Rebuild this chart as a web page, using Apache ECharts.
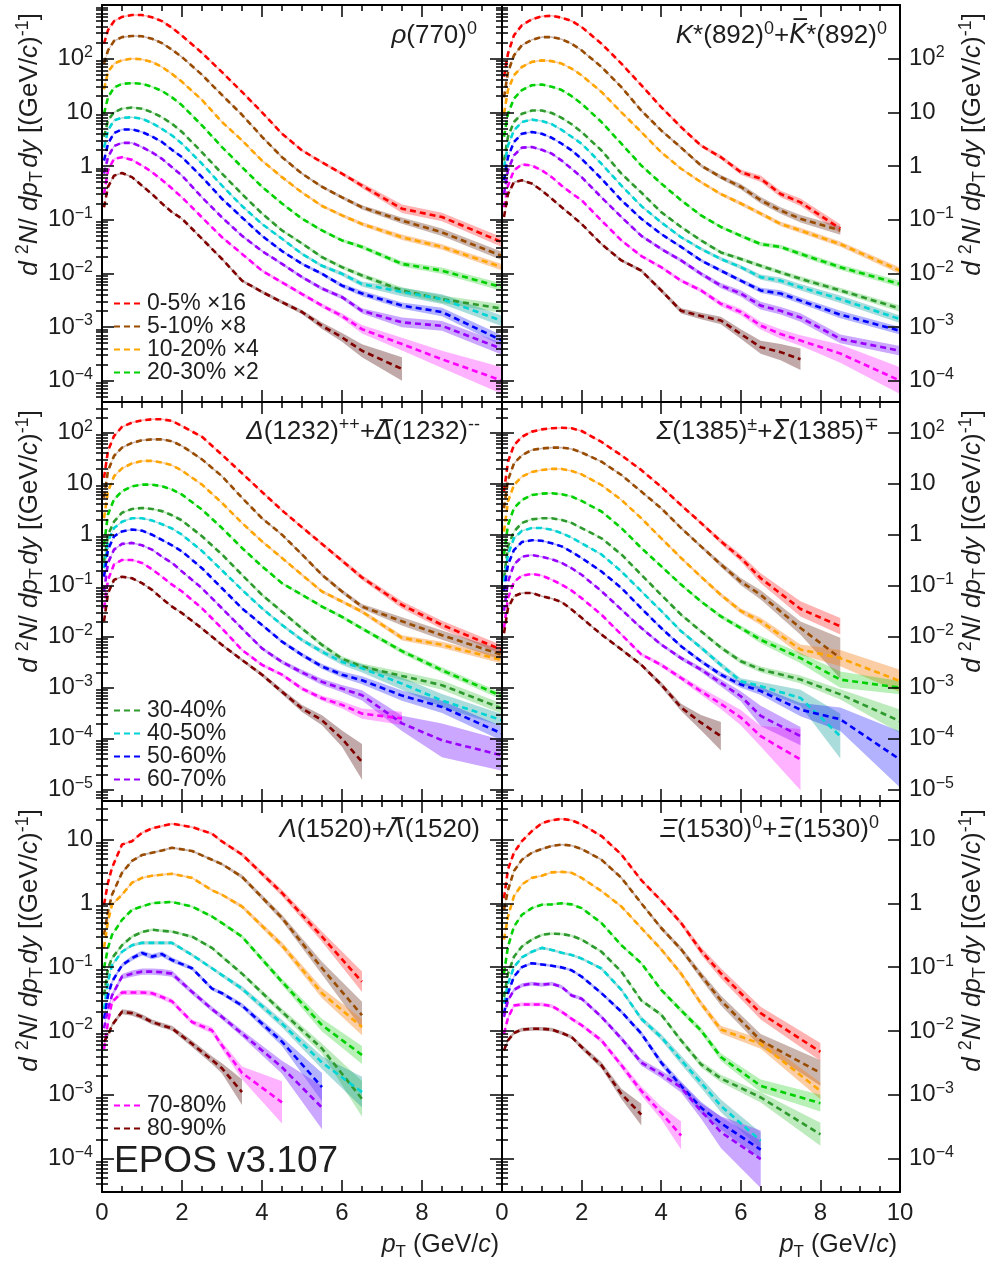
<!DOCTYPE html>
<html><head><meta charset="utf-8">
<script src="https://cdn.jsdelivr.net/npm/echarts@6/dist/echarts.min.js"></script>
<style>html,body{margin:0;padding:0;background:#fff}#c{width:991px;height:1262px}</style>
</head><body><div id="c"></div><script>
// ---------------- data ----------------
const centralities = ['0-5%','5-10%','10-20%','20-30%','30-40%','40-50%','50-60%','60-70%','70-80%','80-90%'];
const scaleFactors = ['\u00d716','\u00d78','\u00d74','\u00d72','','','','','',''];
const lineColors = ['#ff0000','#994c00','#ffa500','#00d000','#2e9a2e','#00d4d4','#0000ff','#9900ff','#ff00ff','#800000'];
const bandColors = ['rgba(255,0,0,0.3)','rgba(120,70,50,0.4)','rgba(245,130,30,0.4)','rgba(0,200,0,0.28)','rgba(40,190,40,0.3)','rgba(0,150,150,0.33)','rgba(0,0,255,0.3)','rgba(140,60,255,0.45)','rgba(255,0,255,0.3)','rgba(100,40,40,0.4)'];

// rho(770)0
const ptRho = [0.05,0.15,0.3,0.5,0.75,1.0,1.25,1.5,1.75,2.0,2.5,3.0,3.5,4.0,4.5,5.0,5.5,6.0,6.5,7.5,8.5,10];
const yieldRho = [
 [190,340,500,600,650,650,590,500,375,268,128,56,24,10,4.0,1.95,1.17,0.72,0.43,0.16,0.112,0.038],
 [81,143,214,252,265,262,235,195,147,107,50,21,9,3.5,1.46,0.72,0.41,0.26,0.17,0.096,0.058,0.021],
 [27,56,81,93,100,97,87,70,52,37,17,6.6,3.0,1.26,0.62,0.32,0.18,0.12,0.083,0.047,0.031,0.013],
 [9.4,19,29,34,35,34,30,25,19,13.5,5.7,2.25,0.95,0.41,0.20,0.104,0.063,0.041,0.031,0.015,0.0112,0.0055],
 [3.5,7.1,10,11.7,12.3,11.7,10,8.1,6.1,4.3,1.8,0.72,0.30,0.13,0.063,0.036,0.020,0.013,0.0091,0.0048,0.0033,0.0022],
 [2.2,4.6,7.1,7.9,8.1,7.6,6.3,4.9,3.7,2.6,1.1,0.43,0.18,0.083,0.044,0.023,0.0138,0.0098,0.0063,0.0045,0.0033,0.0013],
 [1.26,2.6,4.1,4.8,4.8,4.3,3.55,2.8,2.0,1.46,0.62,0.245,0.11,0.05,0.026,0.015,0.0098,0.0059,0.0042,0.0025,0.0019,0.00056],
 [0.72,1.46,2.35,2.7,2.7,2.25,1.8,1.36,0.95,0.66,0.26,0.11,0.05,0.026,0.015,0.0085,0.0052,0.0036,0.002,0.00122,0.00105,0.00039],
 [0.30,0.83,1.36,1.46,1.3,1.02,0.77,0.55,0.38,0.26,0.11,0.047,0.023,0.0112,0.0068,0.0041,0.0025,0.0016,0.00091,0.00048,0.00025,0.0001],
 [0.17,0.41,0.66,0.74,0.62,0.43,0.30,0.20,0.138,0.104,0.044,0.0185,0.0073,0.0045,0.0029,0.0019,0.00105,0.00064,0.00036,0.000165,null,null]
];
const errRho = [
 [.02,.015,.015,.015,.015,.015,.015,.015,.015,.015,.015,.015,.015,.02,.02,.02,.025,.03,.05,.08,.08,.09],
 [.02,.015,.015,.015,.015,.015,.015,.015,.015,.015,.015,.015,.015,.02,.02,.02,.025,.03,.04,.06,.07,.08],
 [.02,.015,.015,.015,.015,.015,.015,.015,.015,.015,.015,.015,.015,.02,.02,.02,.025,.03,.035,.05,.05,.06],
 [.02,.015,.015,.015,.015,.015,.015,.015,.015,.015,.015,.015,.015,.02,.02,.02,.025,.03,.04,.05,.06,.07],
 [.02,.015,.015,.015,.015,.015,.015,.015,.015,.015,.015,.015,.02,.02,.02,.025,.03,.035,.04,.06,.07,.08],
 [.02,.015,.015,.015,.015,.015,.015,.015,.015,.015,.015,.015,.02,.02,.02,.025,.03,.04,.05,.08,.09,.10],
 [.02,.015,.015,.015,.015,.015,.015,.015,.015,.015,.015,.015,.02,.02,.02,.025,.03,.04,.05,.06,.08,.10],
 [.02,.015,.015,.015,.015,.015,.015,.015,.015,.015,.015,.015,.02,.02,.025,.03,.035,.04,.05,.09,.09,.11],
 [.02,.015,.015,.015,.015,.015,.015,.015,.015,.015,.015,.02,.02,.025,.03,.035,.04,.05,.08,.12,.16,.25],
 [.02,.015,.015,.015,.015,.015,.015,.015,.015,.015,.02,.02,.025,.03,.035,.04,.06,.08,.12,.22,null,null]
];

// K*(892)0
const ptKst = [0.05,0.15,0.3,0.5,0.75,1.0,1.25,1.5,1.75,2.0,2.5,3.0,3.5,4.0,4.5,5.0,5.5,6.0,6.5,7.0,7.5,8.5,10];
const yieldKst = [
 [46,124,272,420,540,615,630,580,505,390,190,81,32,12.5,5.3,2.4,1.46,0.77,0.58,0.30,0.21,0.068,null],
 [19,56,115,178,225,252,252,230,190,143,70,29.5,10.8,4.6,2.2,1.02,0.62,0.41,0.23,0.148,0.104,0.063,null],
 [9.4,26,49,70,87,93,90,81,65,49,24,10,4.3,1.8,0.89,0.50,0.30,0.20,0.13,0.083,0.063,0.035,0.0112],
 [3.5,9.4,18,26,32,33,30,26,20,14.5,6.6,2.6,1.02,0.47,0.23,0.12,0.073,0.050,0.035,0.031,0.023,0.013,0.0063],
 [1.26,3.5,6.6,9.4,10.8,10.8,9.7,7.9,6.0,4.3,1.95,0.72,0.32,0.138,0.073,0.041,0.0245,0.0185,0.0138,0.0104,0.0079,0.0048,0.0022],
 [0.95,2.4,4.6,6.6,7.3,6.9,6.0,4.7,3.5,2.6,1.1,0.43,0.18,0.089,0.047,0.0285,0.0185,0.013,0.0085,0.0073,0.0055,0.0033,0.0014],
 [0.54,1.46,2.8,4.0,4.3,4.0,3.35,2.6,1.95,1.36,0.58,0.23,0.104,0.054,0.031,0.0174,0.0112,0.0073,0.0048,0.0042,0.0031,0.0017,0.00085],
 [0.30,0.83,1.58,2.2,2.25,2.0,1.7,1.26,0.89,0.62,0.26,0.112,0.05,0.0285,0.0174,0.0098,0.0059,0.0042,0.0025,0.002,0.0015,0.0006,0.00036],
 [0.17,0.43,0.83,1.07,1.02,0.83,0.62,0.43,0.31,0.23,0.096,0.041,0.021,0.013,0.0073,0.0048,0.0027,0.0019,0.00106,0.00074,0.00056,0.00032,0.0001],
 [0.112,0.30,0.50,0.54,0.47,0.35,0.245,0.17,0.12,0.083,0.035,0.0174,0.0112,0.0048,0.002,0.0016,0.00132,0.00074,0.00042,0.00034,0.00025,null,null]
];
const errKst = [
 [.02,.015,.015,.015,.015,.015,.015,.015,.015,.015,.015,.015,.02,.02,.025,.03,.04,.05,.06,.06,.07,.08,null],
 [.02,.015,.015,.015,.015,.015,.015,.015,.015,.015,.015,.015,.02,.02,.025,.03,.04,.05,.06,.06,.07,.08,null],
 [.02,.015,.015,.015,.015,.015,.015,.015,.015,.015,.015,.015,.02,.02,.02,.025,.03,.035,.04,.04,.05,.05,.06],
 [.02,.015,.015,.015,.015,.015,.015,.015,.015,.015,.015,.015,.02,.02,.02,.025,.03,.035,.04,.04,.05,.05,.06],
 [.02,.015,.015,.015,.015,.015,.015,.015,.015,.015,.015,.015,.02,.02,.02,.025,.03,.035,.04,.04,.05,.05,.06],
 [.02,.015,.015,.015,.015,.015,.015,.015,.015,.015,.015,.015,.02,.02,.025,.03,.035,.04,.05,.06,.06,.07,.07],
 [.02,.015,.015,.015,.015,.015,.015,.015,.015,.015,.015,.015,.02,.02,.025,.03,.035,.04,.05,.06,.06,.07,.07],
 [.02,.015,.015,.015,.015,.015,.015,.015,.015,.015,.015,.02,.025,.03,.035,.04,.05,.06,.07,.07,.08,.08,.09],
 [.02,.015,.015,.015,.015,.015,.015,.015,.015,.015,.015,.02,.025,.03,.035,.04,.05,.06,.07,.09,.10,.17,.25],
 [.02,.015,.015,.015,.015,.015,.015,.015,.015,.015,.02,.025,.03,.04,.05,.06,.07,.09,.12,.15,.20,null,null]
];

// Delta(1232)++
const ptDelta = [0.05,0.15,0.3,0.5,0.75,1.0,1.25,1.5,1.75,2.0,2.5,3.0,3.5,4.0,4.5,5.0,5.5,6.0,6.5,7.5,8.5,10];
const yieldDelta = [
 [13,44,86,130,158,175,183,183,170,135,83,37,16,6.9,3.0,1.4,0.66,0.31,0.145,0.042,0.017,0.0055],
 [5.3,18,35,51,63,71,74,74,68,55,30,14,5.3,2.1,1.0,0.41,0.163,0.077,0.039,0.020,0.0107,0.0044],
 [2.1,7.1,14,20,25,28,28,26,23,18,9.6,4.2,1.7,0.74,0.35,0.163,0.077,0.049,0.031,0.0095,0.0069,0.0035],
 [0.63,2.5,4.9,7.1,8.9,9.6,9.6,8.9,7.7,6.1,3.1,1.35,0.55,0.24,0.112,0.066,0.039,0.0245,0.0145,0.0052,0.0022,0.00068],
 [0.30,1.0,1.8,2.7,3.2,3.35,3.2,2.9,2.4,1.9,0.93,0.41,0.163,0.066,0.031,0.0145,0.0069,0.0037,0.0026,0.0017,0.00112,0.00039],
 [0.22,0.74,1.35,1.8,2.1,2.1,1.9,1.6,1.32,1.0,0.48,0.20,0.083,0.036,0.017,0.0086,0.0051,0.0032,0.0024,0.0012,0.00056,0.00023],
 [0.15,0.51,0.93,1.16,1.26,1.2,1.0,0.79,0.62,0.47,0.22,0.089,0.036,0.017,0.008,0.0044,0.0026,0.0018,0.0014,0.0007,0.00042,0.000126],
 [0.077,0.28,0.51,0.66,0.69,0.62,0.51,0.37,0.28,0.19,0.089,0.036,0.0145,0.0059,0.0032,0.002,0.0013,0.00096,0.00071,0.0002,0.000093,0.000047],
 [0.036,0.13,0.26,0.32,0.32,0.28,0.21,0.15,0.105,0.077,0.036,0.0145,0.0055,0.0028,0.0018,0.00096,0.00062,0.00046,0.00031,0.00025,null,null],
 [0.020,0.071,0.13,0.15,0.14,0.112,0.083,0.056,0.039,0.029,0.0145,0.0069,0.0035,0.0018,0.00083,0.00039,0.00023,0.0001,0.000035,null,null,null]
];
const errDelta = [
 [.02,.015,.015,.015,.015,.015,.015,.015,.015,.015,.015,.015,.015,.02,.02,.025,.03,.04,.05,.07,.08,.09],
 [.02,.015,.015,.015,.015,.015,.015,.015,.015,.015,.015,.015,.015,.02,.02,.025,.03,.04,.05,.08,.09,.10],
 [.02,.015,.015,.015,.015,.015,.015,.015,.015,.015,.015,.015,.015,.02,.02,.025,.03,.035,.04,.05,.06,.07],
 [.02,.015,.015,.015,.015,.015,.015,.015,.015,.015,.015,.015,.015,.02,.02,.025,.03,.035,.04,.05,.06,.07],
 [.02,.015,.015,.015,.015,.015,.015,.015,.015,.015,.015,.015,.02,.025,.03,.035,.04,.05,.06,.08,.09,.10],
 [.02,.015,.015,.015,.015,.015,.015,.015,.015,.015,.015,.015,.02,.025,.03,.04,.05,.06,.08,.12,.13,.12],
 [.02,.015,.015,.015,.015,.015,.015,.015,.015,.015,.015,.015,.02,.025,.03,.04,.05,.06,.08,.10,.12,.14],
 [.02,.015,.015,.015,.015,.015,.015,.015,.015,.015,.015,.02,.025,.03,.04,.05,.06,.07,.10,.15,.33,.30],
 [.02,.015,.015,.015,.015,.015,.015,.015,.015,.015,.015,.02,.025,.03,.035,.04,.05,.07,.10,.13,null,null],
 [.02,.015,.015,.015,.015,.015,.015,.015,.015,.015,.02,.025,.03,.04,.05,.07,.10,.16,.35,null,null,null]
];

// Sigma(1385)
const ptSigma = [0.05,0.15,0.3,0.5,0.75,1.0,1.25,1.5,1.75,2.0,2.5,3.0,3.5,4.0,4.5,5.0,5.5,6.0,6.5,7.5,8.5,10];
const yieldSigma = [
 [7.0,27,57,83,105,116,122,125,122,108,66,36,18.5,8.7,3.8,1.7,0.74,0.35,0.14,0.035,0.016,null],
 [3.3,11.8,25,36,46,49,51,51,48,41,27,14.8,7.0,3.3,1.35,0.59,0.26,0.12,0.066,0.0148,0.0038,null],
 [1.15,4.5,9.4,13.8,17,18.6,19.5,19.5,17.8,15.3,9.4,4.8,2.1,0.85,0.35,0.15,0.066,0.032,0.020,0.0056,0.0038,0.00135],
 [0.41,1.55,3.3,4.8,6.0,6.4,6.5,6.2,5.6,4.6,2.85,1.35,0.55,0.24,0.105,0.049,0.025,0.0148,0.0087,0.0038,0.00144,0.001],
 [0.14,0.59,1.15,1.7,2.0,2.1,2.1,1.95,1.7,1.35,0.85,0.41,0.164,0.066,0.027,0.0128,0.0061,0.0033,0.00227,0.00145,0.00074,0.00022],
 [0.12,0.41,0.85,1.19,1.35,1.35,1.25,1.07,0.88,0.68,0.41,0.19,0.078,0.032,0.0128,0.0061,0.0028,0.00134,0.00107,0.00063,0.000112,null],
 [0.078,0.26,0.50,0.72,0.78,0.76,0.68,0.59,0.46,0.35,0.19,0.09,0.036,0.0148,0.0065,0.0033,0.0018,0.00115,0.00086,0.00037,0.00024,0.000039],
 [0.032,0.12,0.26,0.37,0.40,0.37,0.33,0.28,0.22,0.164,0.078,0.034,0.0148,0.007,0.0038,0.00227,0.00124,0.00068,0.00028,0.000112,null,null],
 [0.0148,0.057,0.118,0.158,0.17,0.158,0.131,0.105,0.080,0.057,0.027,0.011,0.0045,0.0028,0.00155,0.00085,0.00048,0.00026,0.000112,0.000039,null,null],
 [0.0117,0.036,0.062,0.072,0.072,0.062,0.056,0.048,0.034,0.0234,0.011,0.0056,0.0028,0.00115,0.00041,0.000206,0.000112,null,null,null,null,null]
];
const errSigma = [
 [.02,.015,.015,.015,.015,.015,.015,.015,.015,.015,.015,.015,.015,.02,.025,.03,.05,.07,.10,.15,.16,null],
 [.02,.015,.015,.015,.015,.015,.015,.015,.015,.015,.015,.015,.015,.02,.025,.03,.05,.07,.09,.13,.40,null],
 [.02,.015,.015,.015,.015,.015,.015,.015,.015,.015,.015,.015,.015,.02,.025,.03,.04,.05,.07,.10,.16,.22],
 [.02,.015,.015,.015,.015,.015,.015,.015,.015,.015,.015,.015,.015,.02,.025,.03,.04,.05,.07,.10,.16,.13],
 [.02,.015,.015,.015,.015,.015,.015,.015,.015,.015,.015,.015,.015,.02,.025,.03,.04,.05,.06,.08,.10,.23],
 [.02,.015,.015,.015,.015,.015,.015,.015,.015,.015,.015,.015,.02,.025,.03,.04,.05,.06,.08,.16,.44,null],
 [.02,.015,.015,.015,.015,.015,.015,.015,.015,.015,.015,.015,.02,.025,.03,.04,.05,.06,.08,.13,.23,.55],
 [.02,.015,.015,.015,.015,.015,.015,.015,.015,.015,.015,.02,.025,.03,.04,.05,.07,.10,.20,.18,null,null],
 [.02,.015,.015,.015,.015,.015,.015,.015,.015,.015,.015,.025,.03,.04,.05,.07,.10,.15,.20,.60,null,null],
 [.02,.015,.015,.015,.015,.015,.015,.015,.015,.015,.02,.025,.03,.05,.07,.15,.28,null,null,null,null,null]
];

// Lambda(1520)
const ptLambda = [0.05,0.15,0.25,0.5,0.75,1.0,1.25,1.5,1.75,2.25,2.75,3.0,3.5,4.5,5.5,6.5];
const yieldLambda = [
 [0.95,2.1,3.6,8.3,9.4,12.7,14.9,16.2,17.6,15.6,12.3,9.3,5.8,1.45,0.30,0.059],
 [0.32,0.74,1.36,3.0,4.6,5.7,6.2,6.7,7.4,6.6,4.8,4.1,2.6,0.59,0.096,0.0176],
 [0.20,0.52,0.95,1.36,2.1,2.5,2.7,2.8,2.9,2.5,1.6,1.36,0.89,0.22,0.039,0.0115],
 [0.096,0.20,0.32,0.55,0.79,0.89,1.0,1.03,1.05,0.89,0.62,0.49,0.30,0.059,0.0123,0.0042],
 [0.036,0.096,0.138,0.22,0.30,0.355,0.385,0.37,0.36,0.30,0.20,0.146,0.079,0.020,0.0053,0.00086],
 [0.022,0.059,0.107,0.174,0.22,0.24,0.24,0.24,0.24,0.155,0.096,0.075,0.046,0.013,0.0032,0.0011],
 [0.0155,0.036,0.059,0.107,0.138,0.166,0.146,0.16,0.129,0.096,0.046,0.039,0.025,0.0068,0.00132,null],
 [0.011,0.022,0.036,0.071,0.079,0.085,0.085,0.083,0.079,0.041,0.022,0.0166,0.0091,0.0027,0.00063,null],
 [0.0052,0.0138,0.0285,0.040,0.040,0.040,0.039,0.034,0.029,0.0138,0.0102,0.0059,0.0022,0.00076,null,null],
 [0.0068,0.0085,0.0123,0.020,0.019,0.0166,0.0138,0.0123,0.011,0.0063,0.0035,0.0026,0.0011,null,null,null]
];
const errLambda = [
 [.02,.015,.015,.015,.015,.015,.015,.015,.015,.015,.02,.02,.03,.05,.08,.16],
 [.02,.015,.015,.015,.015,.015,.015,.015,.015,.015,.02,.02,.03,.05,.10,.21],
 [.02,.015,.015,.015,.015,.015,.015,.015,.015,.015,.02,.02,.03,.05,.08,.13],
 [.02,.015,.015,.015,.015,.015,.015,.015,.015,.015,.02,.025,.03,.05,.10,.14],
 [.02,.02,.02,.02,.02,.02,.02,.02,.02,.02,.02,.025,.03,.05,.08,.28],
 [.02,.02,.02,.02,.025,.025,.025,.025,.025,.025,.025,.03,.04,.06,.10,.24],
 [.03,.03,.03,.03,.04,.04,.04,.04,.04,.03,.03,.03,.04,.07,.22,null],
 [.03,.03,.04,.04,.05,.05,.05,.05,.05,.04,.04,.04,.05,.10,.34,null],
 [.03,.03,.03,.04,.04,.04,.04,.04,.04,.04,.05,.06,.10,.33,null,null],
 [.03,.03,.03,.04,.04,.04,.04,.04,.04,.05,.06,.08,.20,null,null,null]
];

// Xi(1530)0
const ptXi = [0.05,0.15,0.3,0.5,0.75,1.0,1.25,1.5,1.75,2.0,2.5,3.0,3.5,4.0,4.5,5.0,5.5,6.5,8.0];
const yieldXi = [
 [1.2,3.4,6.2,9.4,13.5,17.9,20,21,20,17.2,11.3,5.8,2.3,1.1,0.49,0.18,0.08,0.019,0.0047],
 [0.79,1.6,3.2,4.8,6.2,7.1,7.9,8.3,8.0,7.1,4.8,2.5,1.0,0.41,0.19,0.074,0.030,0.0071,0.0022],
 [0.27,0.62,1.29,1.97,2.5,2.7,3.05,3.1,3.0,2.5,1.55,0.89,0.41,0.19,0.079,0.027,0.0105,0.0063,0.00115],
 [0.079,0.21,0.43,0.66,0.84,0.95,0.96,1.0,0.96,0.84,0.49,0.22,0.115,0.044,0.021,0.0102,0.0039,0.00138,0.00074],
 [0.034,0.079,0.145,0.21,0.27,0.32,0.335,0.33,0.31,0.27,0.174,0.085,0.030,0.018,0.0071,0.003,0.0018,0.00091,0.00024],
 [0.027,0.055,0.10,0.142,0.174,0.20,0.186,0.168,0.155,0.136,0.095,0.044,0.0155,0.008,0.0035,0.00155,0.00067,0.00019,null],
 [0.0186,0.039,0.071,0.10,0.115,0.11,0.105,0.099,0.089,0.071,0.039,0.020,0.0091,0.0032,0.00138,0.00063,0.00036,0.000138,null],
 [0.0166,0.030,0.044,0.052,0.055,0.053,0.055,0.049,0.036,0.032,0.0166,0.0076,0.0032,0.0021,0.0013,0.00056,0.00026,0.000098,null],
 [0.009,0.016,0.025,0.026,0.026,0.026,0.0245,0.020,0.0155,0.0123,0.0071,0.0029,0.00115,0.00052,0.00023,null,null,null,null],
 [0.005,0.0071,0.0093,0.0105,0.0108,0.0108,0.0105,0.0093,0.008,0.0056,0.0029,0.00103,0.00049,null,null,null,null,null,null]
];
const errXi = [
 [.02,.015,.015,.015,.015,.015,.015,.015,.015,.015,.015,.02,.02,.03,.04,.06,.08,.10,.14],
 [.02,.015,.015,.015,.015,.015,.015,.015,.015,.015,.015,.02,.02,.03,.04,.06,.08,.10,.20],
 [.02,.015,.015,.015,.015,.015,.015,.015,.015,.015,.015,.02,.02,.03,.04,.05,.06,.08,.13],
 [.02,.015,.015,.015,.015,.015,.015,.015,.015,.015,.015,.02,.02,.03,.04,.05,.06,.10,.13],
 [.02,.02,.02,.02,.02,.02,.02,.02,.02,.02,.02,.02,.025,.03,.04,.05,.06,.08,.18],
 [.02,.02,.02,.02,.02,.02,.02,.02,.02,.02,.025,.03,.04,.05,.07,.08,.10,.13,null],
 [.02,.02,.02,.02,.02,.02,.02,.02,.02,.02,.025,.03,.04,.05,.07,.09,.10,.14,null],
 [.03,.03,.03,.03,.03,.03,.03,.03,.03,.03,.03,.04,.05,.06,.08,.12,.25,.45,null],
 [.03,.03,.03,.03,.03,.03,.03,.03,.03,.03,.04,.05,.07,.10,.22,null,null,null,null],
 [.03,.03,.03,.03,.03,.03,.03,.03,.03,.04,.05,.08,.17,null,null,null,null,null,null]
];

const xTicks = [0,2,4,6,8,10];

// ---------------- layout / style ----------------
const FONT = '"Liberation Sans", Arial, Helvetica, sans-serif';
const TXT = '#1e1e1e';
const rowTop = [5, 402, 801], rowH = [397, 399, 391];
const colLeft = [102, 502], colW = [400, 398];
const yLo = [Math.log10(4e-5), Math.log10(6e-6), Math.log10(3e-5)];
const yHi = [3, Math.log10(400), Math.log10(40)];

const panels = [
  {x: ptRho, y: yieldRho, e: errRho, row: 0, col: 0},
  {x: ptKst, y: yieldKst, e: errKst, row: 0, col: 1},
  {x: ptDelta, y: yieldDelta, e: errDelta, row: 1, col: 0},
  {x: ptSigma, y: yieldSigma, e: errSigma, row: 1, col: 1},
  {x: ptLambda, y: yieldLambda, e: errLambda, row: 2, col: 0},
  {x: ptXi, y: yieldXi, e: errXi, row: 2, col: 1}
];
const legendNames = centralities.map((c, k) => scaleFactors[k] ? c + ' ' + scaleFactors[k] : c);

function expLabel(v) {
  const n = Math.round(v);
  if (n === 0) return '{b|1}';
  if (n === 1) return '{b|10}';
  return '{b|10}{s|' + (n < 0 ? '\u2212' + (-n) : n) + '}';
}
const labelRich = {
  b: {fontSize: 24, fontFamily: FONT, color: TXT, lineHeight: 28},
  s: {fontSize: 16, fontFamily: FONT, color: TXT, lineHeight: 16, verticalAlign: 'top'}
};

function bandRender(params, api) {
  if (params.dataIndexInside !== 0) return null;
  const n = params.dataInsideLength;
  const up = [], dn = [];
  for (let j = 0; j < n; j++) {
    const xv = api.value(0, j);
    up.push(api.coord([xv, api.value(2, j)]));
    dn.push(api.coord([xv, api.value(1, j)]));
  }
  return {type: 'polygon', silent: true, shape: {points: up.concat(dn.reverse())}, style: {fill: api.visual('color')}};
}

const grids = [], xAxes = [], yAxes = [], series = [];
const frameLine = {show: true, onZero: false, lineStyle: {color: '#000', width: 2}};
const tickStyle = {color: '#000', width: 1.5};

panels.forEach((p, pi) => {
  grids.push({left: colLeft[p.col], top: rowTop[p.row], width: colW[p.col], height: rowH[p.row], containLabel: false, outerBoundsMode: 'none'});
  const lo = yLo[p.row], hi = yHi[p.row];
  const majors = [];
  for (let n = Math.ceil(lo); n <= Math.floor(hi); n++) majors.push(n);
  const majorLabels = majors.filter(n => n < hi - 0.05);
  const minors = [];
  for (let n = Math.floor(lo); n <= Math.ceil(hi); n++) for (let k = 2; k <= 9; k++) {
    const v = n + Math.log10(k); if (v > lo && v < hi) minors.push(v);
  }
  const bottomRow = p.row === 2;
  ['bottom', 'top'].forEach(pos => {
    xAxes.push({
      gridIndex: pi, type: 'value', position: pos, min: 0, max: 10, interval: 2, z: 10,
      axisLine: frameLine, splitLine: {show: false}, minorSplitLine: {show: false},
      axisTick: {show: true, inside: true, length: 12, lineStyle: tickStyle},
      minorTick: {show: true, splitNumber: 4, length: 6, lineStyle: tickStyle},
      axisLabel: {show: pos === 'bottom' && bottomRow,
        margin: 9, fontSize: 24, fontFamily: FONT, color: TXT, customValues: xTicks.filter(t => p.col === 1 || t < 10)}
    });
  });
  ['left', 'right'].forEach(pos => {
    const showLab = (pos === 'left' && p.col === 0) || (pos === 'right' && p.col === 1);
    yAxes.push({
      gridIndex: pi, type: 'value', position: pos, min: lo, max: hi, z: 10,
      axisLine: frameLine, splitLine: {show: false},
      axisTick: {show: true, inside: true, length: 12, customValues: majors, lineStyle: tickStyle},
      axisLabel: {show: showLab, customValues: majorLabels, formatter: expLabel, margin: 9, rich: labelRich, fontFamily: FONT, color: TXT}
    });
    yAxes.push({
      gridIndex: pi, type: 'value', position: pos, min: lo, max: hi, z: 10,
      axisLine: {show: false}, splitLine: {show: false},
      axisTick: {show: true, inside: true, length: 6, customValues: minors, lineStyle: tickStyle},
      axisLabel: {show: false}
    });
  });

  p.y.forEach((vals, k) => {
    const bandData = [], lineData = [];
    p.x.forEach((xv, i) => {
      const v = vals[i];
      if (v == null) return;
      const lv = Math.log10(v), er = p.e[k][i] || 0;
      bandData.push([xv, lv - er, lv + er]);
      lineData.push([xv, lv]);
    });
    series.push({
      type: 'custom', name: 'band-' + pi + '-' + k, xAxisIndex: 2 * pi, yAxisIndex: 4 * pi,
      renderItem: bandRender, data: bandData, encode: {x: 0, y: [1, 2]}, clip: true, silent: true,
      itemStyle: {color: bandColors[k]}, z: 2, animation: false
    });
    series.push({
      type: 'line', name: legendNames[k], xAxisIndex: 2 * pi, yAxisIndex: 4 * pi, data: lineData,
      symbol: 'none', showSymbol: false, clip: true, silent: true, z: 3,
      lineStyle: {color: lineColors[k], width: 2.6, type: [6, 4], cap: 'butt'},
      itemStyle: {color: lineColors[k]}
    });
  });
});

// ---------------- text ----------------
const tRich = (sz) => ({
  n: {fontSize: sz, fontFamily: FONT, fill: TXT, lineHeight: sz + 6},
  t: {fontSize: Math.round(sz * 0.45), fontFamily: FONT, fill: TXT, lineHeight: sz + 6},
  i: {fontSize: sz, fontFamily: FONT, fontStyle: 'italic', fill: TXT, lineHeight: sz + 6},
  gi: {fontSize: sz, fontFamily: FONT, fontStyle: 'italic', fill: TXT, lineHeight: sz + 6},
  o: {fontSize: sz, fontFamily: '"DejaVu Sans"', fontStyle: 'italic', fill: TXT, lineHeight: sz + 6},
  og: {fontSize: sz, fontFamily: '"DejaVu Sans"', fontStyle: 'italic', fill: TXT, lineHeight: sz + 6},
  sup: {fontSize: Math.round(sz * 0.68), fontFamily: FONT, fill: TXT, lineHeight: Math.round(sz * 0.68), verticalAlign: 'top'},
  sub: {fontSize: Math.round(sz * 0.68), fontFamily: FONT, fill: TXT, lineHeight: Math.round(sz * 0.68), verticalAlign: 'bottom'}
});
const panelTitles = [
  '{gi|\u03c1}{n|(770)}{sup|0}',
  '{i|K}{n|*(892)}{sup|0}{n|+}{o|K\u0305}{n|*(892)}{sup|0}',
  '{gi|\u0394}{n|(1232)}{sup|++}{n|+}{og|\u0394\u0305}{n|(1232)}{sup|--}',
  '{gi|\u03a3}{n|(1385)}{sup|\u00b1}{n|+}{og|\u03a3\u0305}{n|(1385)}{sup|\u2213}',
  '{gi|\u039b}{n|(1520)+}{og|\u039b\u0305}{n|(1520)}',
  '{gi|\u039e}{n|(1530)}{sup|0}{n|+}{og|\u039e\u0305}{n|(1530)}{sup|0}'
];
const titleX = [477, 887, 480, 879, 480, 879];
const titleY = [36, 36, 432, 432, 830, 830];
const yTitle = '{i|d}{n| }{sup|2}{i|N}{n|/ }{i|dp}{sub|T}{t| }{i|dy}{n| [(GeV/}{i|c}{n|)}{sup|-1}{n|]}';
const xTitle = '{i|p}{sub|T}{n| (GeV/}{i|c}{n|)}';

const graphics = [];
panels.forEach((p, pi) => {
  graphics.push({type: 'text', x: titleX[pi], y: titleY[pi], silent: true,
    style: {text: panelTitles[pi], rich: tRich(26), fontSize: 26, fontFamily: FONT, fill: TXT, align: 'right', verticalAlign: 'middle'}});
});
[0, 1, 2].forEach(r => {
  [30, 973].forEach(xx => {
    graphics.push({type: 'text', x: xx, y: rowTop[r] + 8, rotation: Math.PI / 2, silent: true,
      style: {text: yTitle, rich: tRich(26), fontSize: 26, fontFamily: FONT, fill: TXT, align: 'right', verticalAlign: 'middle'}});
  });
});
[499, 897].forEach(xx => {
  graphics.push({type: 'text', x: xx, y: 1245, silent: true,
    style: {text: xTitle, rich: tRich(25), fontSize: 25, fontFamily: FONT, fill: TXT, align: 'right', verticalAlign: 'middle'}});
});
graphics.push({type: 'text', x: 114, y: 1162, silent: true,
  style: {text: 'EPOS v3.107', fontSize: 37, fontFamily: FONT, fill: TXT, align: 'left', verticalAlign: 'middle'}});

const legendBase = {orient: 'vertical', itemWidth: 28, itemHeight: 12, itemGap: 0, padding: 0, selectedMode: false,
  itemStyle: {opacity: 0, borderWidth: 0}, textStyle: {fontSize: 23, fontFamily: FONT, color: TXT}};
const legends = [
  Object.assign({}, legendBase, {data: legendNames.slice(0, 4), left: 113, top: 292, textStyle: Object.assign({}, legendBase.textStyle, {lineHeight: 23})}),
  Object.assign({}, legendBase, {data: legendNames.slice(4, 8), left: 113, top: 699, textStyle: Object.assign({}, legendBase.textStyle, {lineHeight: 22.5})}),
  Object.assign({}, legendBase, {data: legendNames.slice(8, 10), left: 113, top: 1094, textStyle: Object.assign({}, legendBase.textStyle, {lineHeight: 21})})
];

const chart = echarts.init(document.getElementById('c'), null, {renderer: 'canvas', width: 991, height: 1262});
chart.setOption({
  animation: false,
  backgroundColor: '#fff',
  textStyle: {fontFamily: FONT},
  grid: grids, xAxis: xAxes, yAxis: yAxes, series: series,
  legend: legends,
  graphic: {elements: graphics}
});
</script></body></html>
